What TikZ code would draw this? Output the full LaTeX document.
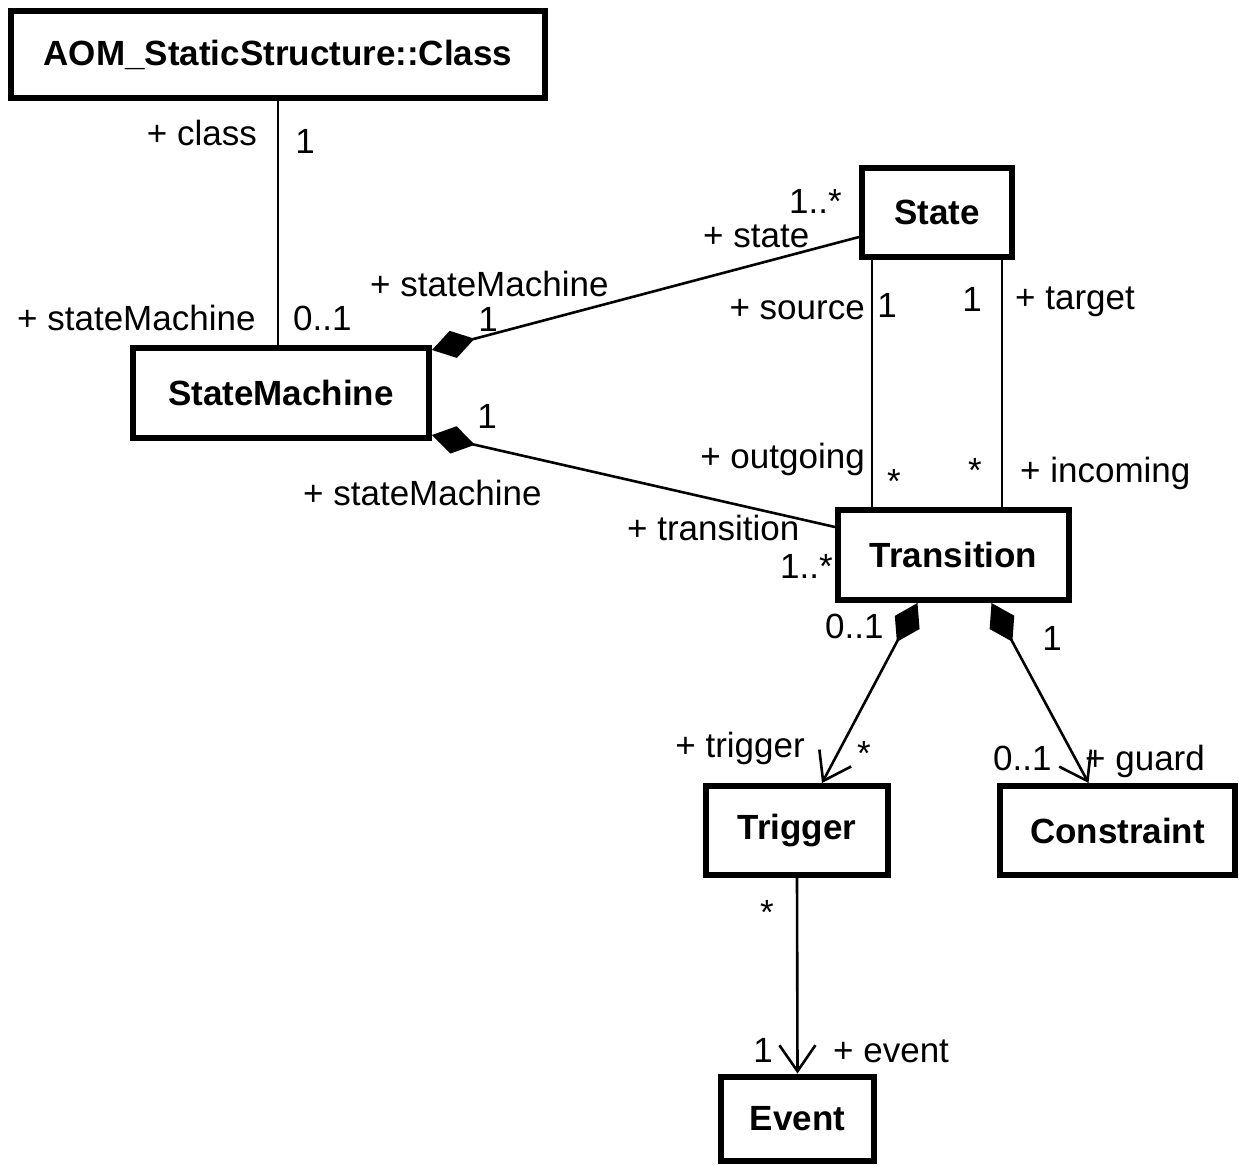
\documentclass[tikz,border=0pt]{standalone}
\usepackage{fontspec}
\setmainfont{Liberation Sans}
\usetikzlibrary{arrows.meta}

\tikzset{
  classbox/.style={draw, line width=6pt, inner sep=0pt, font=\fontsize{35}{40}\selectfont\bfseries},
  role/.style={inner sep=0pt, font=\fontsize{35}{40}\selectfont},
  assoc/.style={line width=2.6pt},
  comp/.style={assoc, {Diamond[length=44pt,width=28pt]}-},
  compnav/.style={assoc, {Diamond[length=44pt,width=28pt]}-{Straight Barb[length=26pt,width=36pt]}},
  nav/.style={assoc, -{Straight Barb[length=26pt,width=36pt]}},
}

\begin{document}
\begin{tikzpicture}[x=1pt,y=-1pt]
\useasboundingbox (0,0) rectangle (1239,1165);
% classes
\node[classbox, minimum width=534pt, minimum height=87pt] (cls) at (278,54.5) {AOM\_StaticStructure::Class};
\node[classbox, minimum width=296pt, minimum height=90pt] (sm) at (281,393) {StateMachine};
\node[classbox, minimum width=150pt, minimum height=89pt] (state) at (937,212.5) {State};
\node[classbox, minimum width=231pt, minimum height=90pt] (trans) at (953.5,555) {Transition};
\node[classbox, minimum width=182pt, minimum height=89pt] (trig) at (797,830.5) {Trigger};
\node[classbox, minimum width=235pt, minimum height=89pt] (cons) at (1117.5,830.5) {Constraint};
\node[classbox, minimum width=153pt, minimum height=84pt] (event) at (797.5,1118.5) {Event};

% associations
\draw[assoc] (cls.south) -- (cls.south |- sm.north);
\draw[comp] ([yshift=-5pt]sm.north east) -- ([yshift=-24.5pt]state.west);
\draw[comp] ([yshift=6pt]sm.south east) -- ([yshift=28pt]trans.west);
\draw[assoc] ([xshift=-65pt]state.south) -- ([xshift=-65pt]state.south |- trans.north);
\draw[assoc] ([xshift=65pt]state.south) -- ([xshift=65pt]state.south |- trans.north);
\draw[compnav] ([xshift=-36pt]trans.south) -- ([xshift=25pt]trig.north);
\draw[compnav] ([xshift=38pt]trans.south) -- ([xshift=-29pt]cons.north);
\draw[nav] (trig.south) -- (event.north);

% role names and multiplicities
\node[role, anchor=base east] (lclass) at (257,145) {+ class};
\node[role, anchor=base] (mclass) at (305,153) {1};
\node[role, anchor=base west] (lsm1) at (17,330) {+ stateMachine};
\node[role, anchor=base west] (msm1) at (293,330) {0..1};
\node[role, anchor=base west] (lsm2) at (370,296) {+ stateMachine};
\node[role, anchor=base] (msm2) at (488,331) {1};
\node[role, anchor=base west] (mstate) at (789,213) {1..*};
\node[role, anchor=base west] (lstate) at (703,247) {+ state};
\node[role, anchor=base] (msm3) at (487,428) {1};
\node[role, anchor=base west] (lsm3) at (303,505) {+ stateMachine};
\node[role, anchor=base west] (ltrans) at (627,540) {+ transition};
\node[role, anchor=base west] (mtrans) at (780,578) {1..*};
\node[role, anchor=base east] (lsource) at (865,319) {+ source};
\node[role, anchor=base] (msource) at (887,317) {1};
\node[role, anchor=base] (mtarget) at (972,311) {1};
\node[role, anchor=base west] (ltarget) at (1015,309) {+ target};
\node[role, anchor=base east] (lout) at (865,468) {+ outgoing};
\node[role, anchor=base] (mout) at (894,493) {*};
\node[role, anchor=base] (min) at (975,482) {*};
\node[role, anchor=base west] (lin) at (1020,482) {+ incoming};
\node[role, anchor=base west] (mtrig1) at (825,638) {0..1};
\node[role, anchor=base] (mguard1) at (1052,650) {1};
\node[role, anchor=base east] (ltrig) at (805,757) {+ trigger};
\node[role, anchor=base] (mtrig2) at (864,765) {*};
\node[role, anchor=base west] (mguard2) at (993,770) {0..1};
\node[role, anchor=base west] (lguard) at (1085,770) {+ guard};
\node[role, anchor=base] (mtrig3) at (767,924) {*};
\node[role, anchor=base] (mevent) at (763,1062) {1};
\node[role, anchor=base west] (levent) at (833,1062) {+ event};
\end{tikzpicture}
\end{document}
